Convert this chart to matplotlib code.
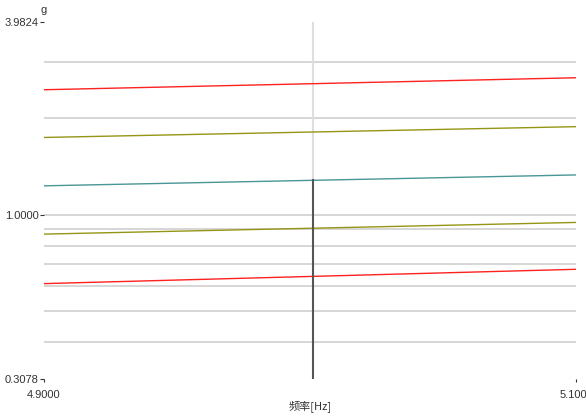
import matplotlib
matplotlib.use("Agg")
import matplotlib.pyplot as plt
import matplotlib.ticker as mticker

plt.rcParams['font.family'] = ['Liberation Sans Narrow', 'Liberation Sans', 'Noto Sans CJK SC', 'DejaVu Sans']

# dane
freq = [4.9, 5.1]
red_top = [2.45, 2.67]
olive_top = [1.74, 1.88]
teal = [1.23, 1.33]
olive_low = [0.87, 0.946]
red_low = [0.61, 0.676]
serie = [
    (red_top, '#ff2020'),
    (olive_top, '#959515'),
    (teal, '#4a9595'),
    (olive_low, '#959515'),
    (red_low, '#ff2020'),
]
y_min, y_max = 0.3078, 3.9824
kursor_x = 5.001
kursor_y = 1.28
siatka = [0.4, 0.5, 0.6, 0.7, 0.8, 0.9, 1.0, 2.0, 3.0]

fig = plt.figure(figsize=(5.86, 4.16), dpi=100)
ax = fig.add_axes([44 / 586, 1 - 379 / 416, 532 / 586, 357 / 416])
ax.set_yscale('log')
ax.set_xlim(freq[0], freq[1])
ax.set_ylim(y_min, y_max)

for y in siatka:
    ax.axhline(y, color='#cfcfcf', lw=1.2, zorder=1)

for wartosci, kolor in serie:
    ax.plot(freq, wartosci, color=kolor, lw=1.0, zorder=3)

# kursor
ax.plot([kursor_x, kursor_x], [kursor_y, y_max], color='#dedede', lw=1.5, zorder=2)
ax.plot([kursor_x, kursor_x], [y_min, kursor_y], color='#555555', lw=1.5, zorder=4)

for s in ax.spines.values():
    s.set_visible(False)

ax.yaxis.set_major_locator(mticker.FixedLocator([y_min, 1.0, y_max]))
ax.yaxis.set_minor_locator(mticker.NullLocator())
ax.yaxis.set_major_formatter(mticker.FixedFormatter(['0.3078', '1.0000', '3.9824']))
ax.xaxis.set_major_locator(mticker.FixedLocator([4.9, 5.1]))
ax.xaxis.set_major_formatter(mticker.FixedFormatter(['4.9000', '5.1000']))
ax.tick_params(axis='y', length=3, width=0.8, pad=1, labelsize=8, colors='#333333')
ax.tick_params(axis='x', length=2, width=0.8, pad=6, labelsize=8, colors='#333333')

ax.text(0, 1.02, 'g', transform=ax.transAxes, fontsize=8, color='#333333', ha='center', va='bottom')
ax.set_xlabel('频率[Hz]', fontsize=8, color='#333333', labelpad=0,
              family=['Noto Sans CJK SC', 'DejaVu Sans'])

fig.savefig('out.png', dpi=100)
